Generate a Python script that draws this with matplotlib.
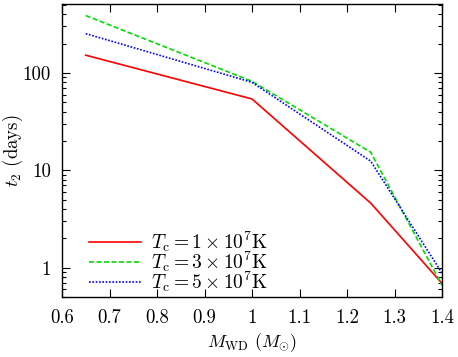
import numpy as np
import matplotlib
matplotlib.use("Agg")
import matplotlib.pyplot as plt
from matplotlib.ticker import FixedLocator, FixedFormatter, LogLocator, NullFormatter

plt.rcParams["font.family"] = "serif"
plt.rcParams["font.serif"] = ["cmr10", "DejaVu Serif"]
plt.rcParams["mathtext.fontset"] = "cm"
plt.rcParams["axes.formatter.use_mathtext"] = True

# white dwarf mass (M_sun)
m_wd = [0.65, 1.0, 1.25, 1.4]

# t2 in days for each central temperature
t2_1e7 = [152, 54, 4.6, 0.69]
t2_3e7 = [388, 82, 15.3, 0.66]
t2_5e7 = [253, 80, 12.4, 0.88]

labels = [r"$T_{\rm c} = 1 \times 10^7{\rm K}$",
          r"$T_{\rm c} = 3 \times 10^7{\rm K}$",
          r"$T_{\rm c} = 5 \times 10^7{\rm K}$"]

x_ticks = [0.6, 0.7, 0.8, 0.9, 1.0, 1.1, 1.2, 1.3, 1.4]
x_tick_labels = ["0.6", "0.7", "0.8", "0.9", "1", "1.1", "1.2", "1.3", "1.4"]
y_ticks = [1, 10, 100]
y_tick_labels = ["1", "10", "100"]

fig = plt.figure(figsize=(4.58, 3.57), dpi=100)
ax = fig.add_axes([62 / 458, 1 - 297 / 357, 380 / 458, 293 / 357])

ax.plot(m_wd, t2_1e7, color="#ff0000", lw=1.2, ls="-", label=labels[0])
ax.plot(m_wd, t2_3e7, color="#00dd00", lw=1.2, ls=(0, (3, 1.5)), label=labels[1])
ax.plot(m_wd, t2_5e7, color="#0000ff", lw=1.2, ls=(0, (1, 1)), label=labels[2])

ax.set_yscale("log")
ax.set_xlim(0.6, 1.4)
ax.set_ylim(0.5, 510)

ax.xaxis.set_major_locator(FixedLocator(x_ticks))
ax.xaxis.set_major_formatter(FixedFormatter(x_tick_labels))
ax.yaxis.set_major_locator(FixedLocator(y_ticks))
ax.yaxis.set_major_formatter(FixedFormatter(y_tick_labels))
ax.yaxis.set_minor_locator(LogLocator(base=10, subs=np.arange(2, 10)))
ax.yaxis.set_minor_formatter(NullFormatter())

ax.tick_params(which="both", direction="in", top=True, right=True, labelsize=13.5)
ax.tick_params(axis="x", pad=9)
ax.tick_params(axis="y", pad=8)
ax.tick_params(which="major", length=6, width=0.8)
ax.tick_params(which="minor", length=3, width=0.8)
for s in ax.spines.values():
    s.set_linewidth(1.0)

ax.set_xlabel(r"$M_{\rm WD}$ $(M_{\odot})$", fontsize=13)
ax.xaxis.set_label_coords(0.5, -0.118)
ax.set_ylabel(r"$t_2$ (days)", fontsize=13.5)
ax.yaxis.set_label_coords(-0.097, 0.5)

ax.legend(loc="lower left", frameon=False, fontsize=14, handlelength=2.7,
          handletextpad=0.5, labelspacing=-0.25, borderaxespad=0.0,
          bbox_to_anchor=(0.05, -0.015))

fig.savefig("out.png", dpi=100)
